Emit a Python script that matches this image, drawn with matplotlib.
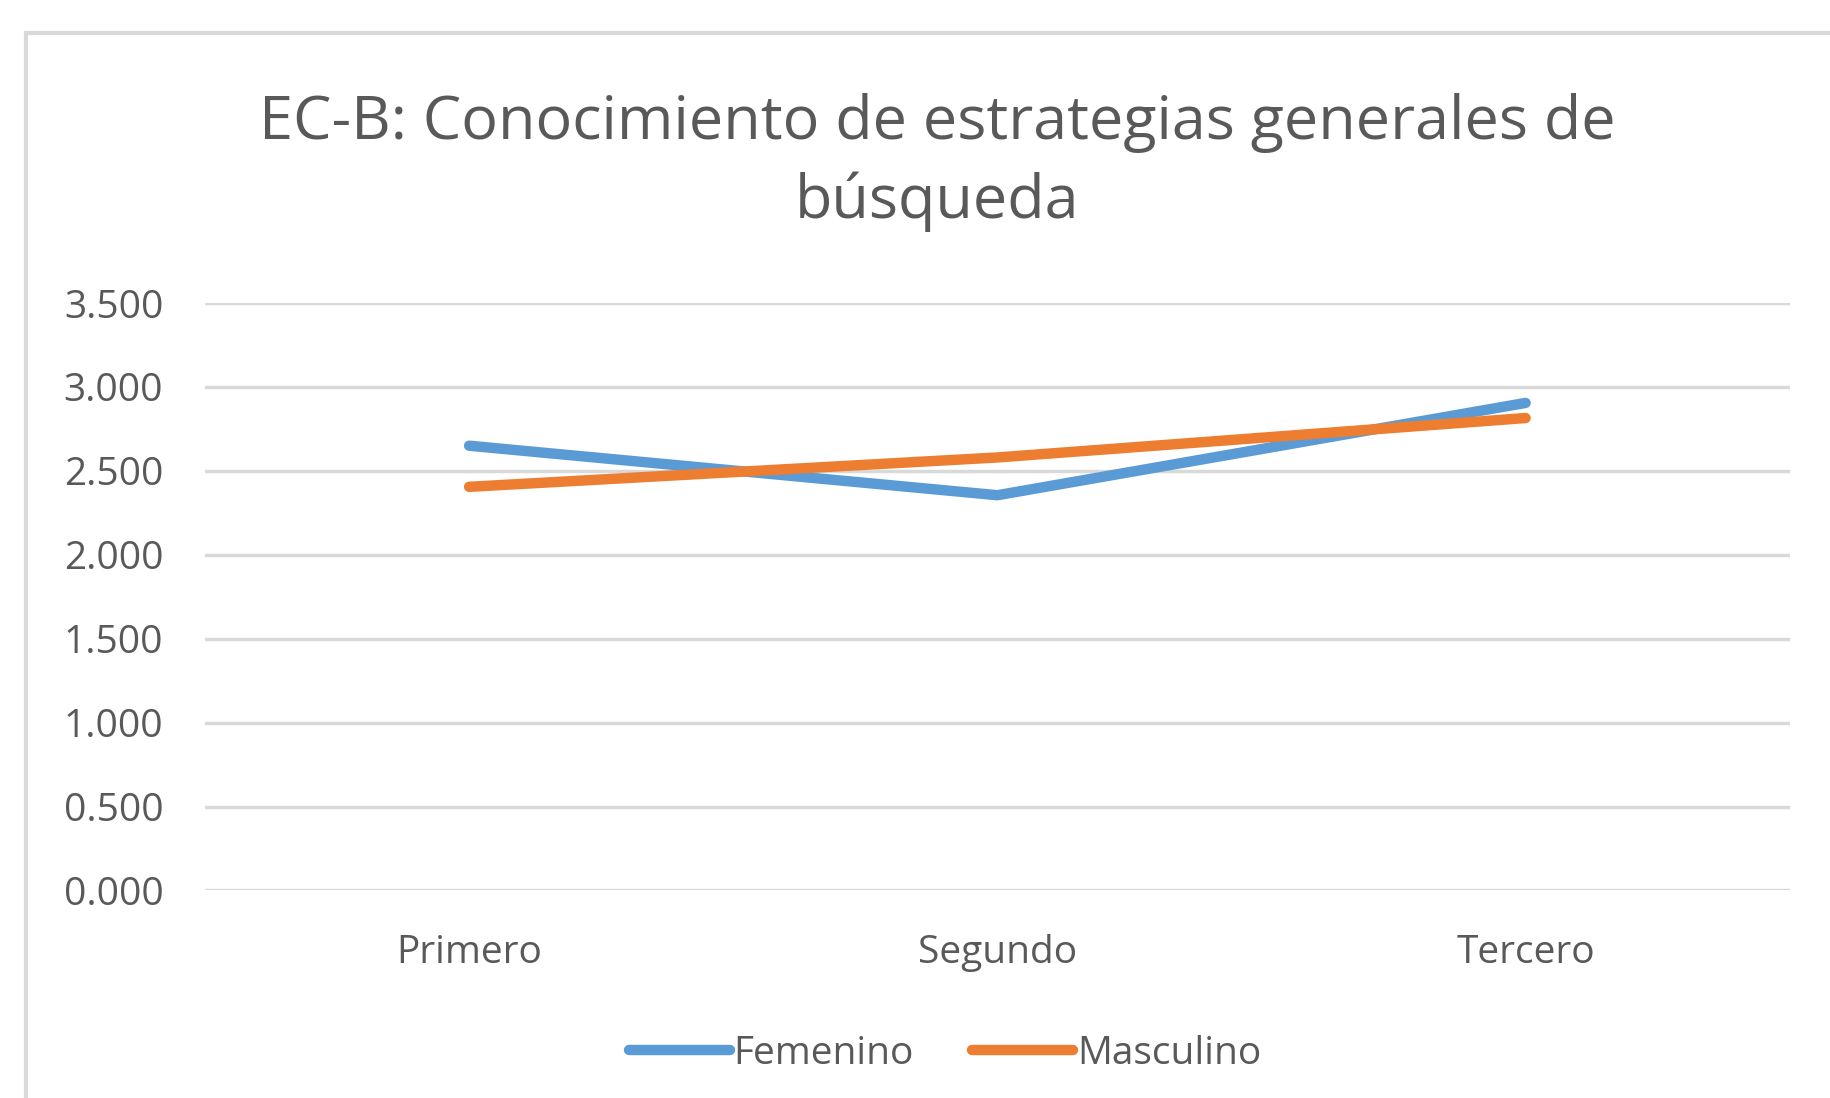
import matplotlib
matplotlib.use("Agg")
import matplotlib.pyplot as plt
from matplotlib.patches import Rectangle

# data
cursos = ["Primero", "Segundo", "Tercero"]
femenino = [2.650, 2.355, 2.905]
masculino = [2.405, 2.580, 2.815]
y_ticks = [0.0, 0.5, 1.0, 1.5, 2.0, 2.5, 3.0, 3.5]

plt.rcParams['font.family'] = ['Open Sans', 'DejaVu Sans']
gris = "#595959"

fig = plt.figure(figsize=(18.3, 10.98), dpi=100)
ax = fig.add_axes([0.112, 0.189, 0.866, 0.535])

# chart border (only left and top are visible in the crop)
fig.patches.append(Rectangle((0.014, -0.05), 1.2, 1.02, transform=fig.transFigure,
                             fill=False, edgecolor="#d9d9d9", linewidth=3))

x = range(len(cursos))
ax.plot(x, femenino, color="#5b9bd5", linewidth=7.5, solid_capstyle="round",
        label="Femenino")
ax.plot(x, masculino, color="#ed7d31", linewidth=7.5, solid_capstyle="round",
        label="Masculino")

ax.set_xlim(-0.5, 2.5)
ax.set_ylim(0, 3.5)
ax.set_yticks(y_ticks)
ax.set_yticklabels([f"{v:.3f}" for v in y_ticks])
ax.set_xticks(list(x))
ax.set_xticklabels(cursos)
ax.grid(axis="y", color="#d9d9d9", linewidth=2.5)
ax.set_axisbelow(True)
for s in ax.spines.values():
    s.set_visible(False)
ax.tick_params(length=0, labelcolor=gris)
ax.tick_params(axis="y", pad=30, labelsize=28)
ax.tick_params(axis="x", pad=31, labelsize=28)

fig.text(0.512, 0.852, "EC-B: Conocimiento de estrategias generales de\nbúsqueda",
         ha="center", va="center", fontsize=44, color=gris, linespacing=1.4)

ax.legend(loc="center", bbox_to_anchor=(0.467, -0.278), ncol=2, frameon=False,
          fontsize=28, labelcolor=gris, handlelength=2.6, handletextpad=0.1,
          columnspacing=1.5)

plt.savefig("out.png", dpi=100)
